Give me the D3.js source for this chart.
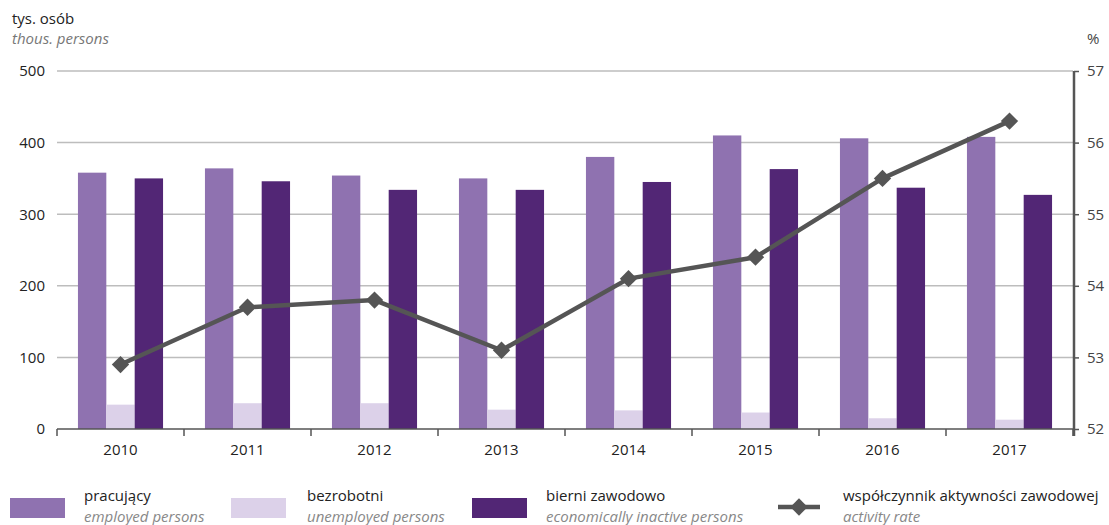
<!DOCTYPE html>
<html><head><meta charset="utf-8">
<script src="https://cdn.jsdelivr.net/npm/d3@7"></script>
<style>
html,body{margin:0;padding:0;background:#fff;}
svg{display:block;font-family:"Open Sans","Noto Sans",sans-serif;}
</style></head>
<body>
<script>
const years = ["2010","2011","2012","2013","2014","2015","2016","2017"];
const employed = [358, 364, 354, 350, 380, 410, 406, 408];
const unemployed = [34, 36, 36, 27, 26, 23, 15, 13];
const inactive = [350, 346, 334, 334, 345, 363, 337, 327];
const activityRate = [52.9, 53.7, 53.8, 53.1, 54.1, 54.4, 55.5, 56.3];
const leftTicks = [0, 100, 200, 300, 400, 500];
const rightTicks = [52, 53, 54, 55, 56, 57];
const seriesNames = ["employed", "unemployed", "inactive"];
const legendPL = ["pracujący", "bezrobotni", "bierni zawodowo", "współczynnik aktywności zawodowej"];
const legendEN = ["employed persons", "unemployed persons", "economically inactive persons", "activity rate"];

const W = 1109, H = 525;
const colors = {employed:"#8f72b0", unemployed:"#dcd1e9", inactive:"#522675"};
const lineColor = "#555555";

const svg = d3.select("body").append("svg").attr("width", W).attr("height", H);

const x0 = d3.scaleBand().domain(years).range([57, 1073]).paddingInner(0.33).paddingOuter(0.165);
const x1 = d3.scaleBand().domain(seriesNames).range([0, x0.bandwidth()]);
const y = d3.scaleLinear().domain([0, 500]).range([429, 71]);
const y2 = d3.scaleLinear().domain([52, 57]).range([429, 71]);

// gridlines
svg.append("g").selectAll("line").data(leftTicks.filter(d => d > 0)).join("line")
  .attr("x1", 57).attr("x2", 1073)
  .attr("y1", d => y(d)).attr("y2", d => y(d))
  .attr("stroke", "#bdbdbd").attr("stroke-width", 1.5);

// left axis labels
const yAxis = d3.axisLeft(y).tickValues(leftTicks).tickSize(0).tickPadding(0);
const gy = svg.append("g").attr("transform", "translate(45,0)").call(yAxis);
gy.select(".domain").remove();
gy.selectAll("text").attr("font-size", 15).attr("fill", "#222").attr("font-family", "Open Sans, Noto Sans, sans-serif");

// bars
const data = years.map((yr, i) => ({year: yr, employed: employed[i], unemployed: unemployed[i], inactive: inactive[i]}));
const groups = svg.append("g").selectAll("g").data(data).join("g")
  .attr("transform", d => `translate(${x0(d.year)},0)`);
groups.selectAll("rect").data(d => seriesNames.map(k => ({key: k, value: d[k]}))).join("rect")
  .attr("x", d => x1(d.key)).attr("width", x1.bandwidth())
  .attr("y", d => y(d.value)).attr("height", d => y(0) - y(d.value))
  .attr("fill", d => colors[d.key]);

// x axis
const step = x0.step();
svg.append("line").attr("x1", 57).attr("x2", 1074).attr("y1", y(0)).attr("y2", y(0))
  .attr("stroke", "#555").attr("stroke-width", 1.5);
svg.append("g").selectAll("line").data(d3.range(years.length + 1)).join("line")
  .attr("x1", i => 57 + i * step).attr("x2", i => 57 + i * step)
  .attr("y1", y(0)).attr("y2", y(0) + 7)
  .attr("stroke", "#555").attr("stroke-width", 1.5);
const xAxis = d3.axisBottom(x0).tickSize(0).tickPadding(0);
const gx = svg.append("g").attr("transform", `translate(0,${y(0) + 26})`).call(xAxis);
gx.select(".domain").remove();
gx.selectAll("text").attr("font-size", 15).attr("fill", "#222").attr("dy", 0)
  .attr("font-family", "Open Sans, Noto Sans, sans-serif");

// right axis
const y2Axis = d3.axisRight(y2).tickValues(rightTicks).tickFormat(d3.format("d")).tickSize(5).tickPadding(8);
const gy2 = svg.append("g").attr("transform", "translate(1074,0)").call(y2Axis);
gy2.select(".domain").attr("stroke", "#555").attr("stroke-width", 2.5)
  .attr("d", `M0,${y2(57)}V${y2(52) + 7}`);
gy2.selectAll(".tick line").attr("stroke", "#555").attr("stroke-width", 1.5);
gy2.selectAll("text").attr("font-size", 15).attr("fill", "#444")
  .attr("font-family", "Open Sans, Noto Sans, sans-serif");

// line
const lx = d => x0(d) + x0.bandwidth() / 2;
const line = d3.line().x((d, i) => lx(years[i])).y(d => y2(d));
svg.append("path").datum(activityRate).attr("d", line)
  .attr("fill", "none").attr("stroke", lineColor).attr("stroke-width", 4.5).attr("stroke-linejoin", "round");
const diamond = d3.symbol().type(d3.symbolSquare).size(150);
svg.append("g").selectAll("path").data(activityRate).join("path")
  .attr("d", diamond)
  .attr("transform", (d, i) => `translate(${lx(years[i])},${y2(d)}) rotate(45)`)
  .attr("fill", lineColor);

// titles
svg.append("text").attr("x", 12).attr("y", 24).attr("font-size", 15).attr("fill", "#222").text("tys. osób");
svg.append("text").attr("x", 12).attr("y", 44).attr("font-size", 15).attr("font-style", "italic").attr("fill", "#777").text("thous. persons");
svg.append("text").attr("x", 1087).attr("y", 44).attr("font-size", 15).attr("fill", "#444").text("%");

// legend
const legX = [10, 231, 472, 778];
const legTextX = [84, 307, 546, 843];
const legKeys = ["employed", "unemployed", "inactive", "line"];
const leg = svg.append("g").selectAll("g").data(legKeys).join("g");
leg.each(function(k, i) {
  const g = d3.select(this);
  if (k === "line") {
    g.append("line").attr("x1", legX[i]).attr("x2", legX[i] + 42).attr("y1", 507).attr("y2", 507)
      .attr("stroke", lineColor).attr("stroke-width", 4.5);
    g.append("path").attr("d", diamond).attr("transform", `translate(${legX[i] + 21},507) rotate(45)`).attr("fill", lineColor);
  } else {
    g.append("rect").attr("x", legX[i]).attr("y", 498).attr("width", 55).attr("height", 20).attr("fill", colors[k]);
  }
  g.append("text").attr("x", legTextX[i]).attr("y", 501).attr("font-size", 15).attr("fill", "#222").text(legendPL[i]);
  g.append("text").attr("x", legTextX[i]).attr("y", 522).attr("font-size", 15).attr("font-style", "italic").attr("fill", "#888").text(legendEN[i]);
});
</script>
</body></html>
